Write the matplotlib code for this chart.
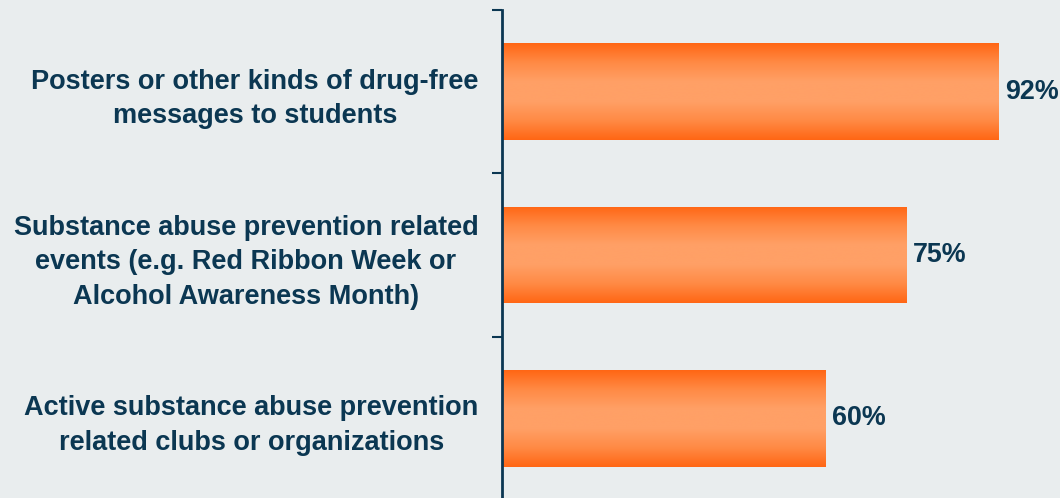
import matplotlib
matplotlib.use("Agg")
import matplotlib.pyplot as plt
import numpy as np
from matplotlib.colors import LinearSegmentedColormap

categories = [
    "Posters or other kinds of drug-free\nmessages to students",
    "Substance abuse prevention related\nevents (e.g. Red Ribbon Week or\nAlcohol Awareness Month)",
    "Active substance abuse prevention\nrelated clubs or organizations",
]
values = [92, 75, 60]

bg = "#E9EDEE"
navy = "#0B3752"
edge_orange = "#FF6614"
mid_orange = "#FFA066"

plt.rcParams['font.family'] = ['Liberation Sans', 'DejaVu Sans']

fig = plt.figure(figsize=(10.6, 4.98), dpi=100, facecolor=bg)
ax = fig.add_axes([502/1060, -2/498, 540/1060, 490/498])
ax.set_facecolor(bg)

y = np.arange(len(categories))
bars = ax.barh(y, values, height=0.59, color=edge_orange, zorder=2)
ax.set_xlim(0, 100)
ax.set_ylim(len(categories) - 0.5, -0.5)

cmap = LinearSegmentedColormap.from_list("g", [edge_orange, "#FF8A45", mid_orange, mid_orange, "#FF8A45", edge_orange])
grad = np.linspace(0, 1, 256).reshape(-1, 1)
for b in bars:
    x0, y0 = b.get_x(), b.get_y()
    w, h = b.get_width(), b.get_height()
    im = ax.imshow(grad, cmap=cmap, aspect='auto', extent=(x0, x0 + w, y0 + h, y0),
                   zorder=3, interpolation='bicubic')
    im.set_clip_path(b)

for yi, v in zip(y, values):
    ax.annotate(f"{v}%", (v, yi), xytext=(4.5, 0), textcoords='offset points',
                va='center', ha='left', fontsize=19.4, fontweight='bold', color=navy)

ax.set_yticks(y)
ax.set_yticklabels(categories, fontsize=19.5, fontweight='bold', color=navy,
                   multialignment='center', linespacing=1.42)
ax.tick_params(axis='y', which='major', length=0, pad=17)
ax.set_yticks(np.arange(-0.5, len(categories)), minor=True)
ax.tick_params(axis='y', which='minor', length=7, width=1.5, color=navy, direction='out')
ax.set_xticks([])
ax.tick_params(axis='x', length=0)

for s in ['top', 'right', 'bottom']:
    ax.spines[s].set_visible(False)
ax.spines['left'].set_color(navy)
ax.spines['left'].set_linewidth(2)
ax.spines['left'].set_zorder(5)

fig.savefig("out.png", dpi=100, facecolor=bg)
